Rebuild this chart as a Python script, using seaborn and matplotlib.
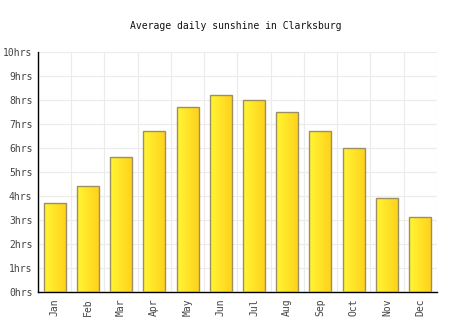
import numpy as np
import pandas as pd
import matplotlib
matplotlib.use("Agg")
import matplotlib.pyplot as plt
import seaborn as sns
from matplotlib.colors import LinearSegmentedColormap

months = ["Jan", "Feb", "Mar", "Apr", "May", "Jun",
          "Jul", "Aug", "Sep", "Oct", "Nov", "Dec"]
sunshine_hours = [3.7, 4.4, 5.6, 6.7, 7.7, 8.2, 8.0, 7.5, 6.7, 6.0, 3.9, 3.1]
y_ticks = list(range(0, 11))
y_tick_labels = [f"{v}hrs" for v in y_ticks]
title = "Average daily sunshine in Clarksburg"

df = pd.DataFrame({"month": months, "hours": sunshine_hours})

sns.set_style("white")
plt.rcParams["font.family"] = ["DejaVu Sans Mono"]

fig = plt.figure(figsize=(4.74, 3.31), dpi=100)
ax = fig.add_axes([0.0802, 0.1193, 0.8412, 0.7245])

sns.barplot(data=df, x="month", y="hours", ax=ax, width=0.66,
            color="#FFE62A", edgecolor="#9C8F63", linewidth=1.0,
            zorder=3)

# horizontal yellow gradient inside each bar
grad = LinearSegmentedColormap.from_list("sun", ["#FFF533", "#FFD21C"])
g = np.linspace(0, 1, 64).reshape(1, -1)
for p in ax.patches:
    x0, y0 = p.get_x(), p.get_y()
    w, h = p.get_width(), p.get_height()
    p.set_facecolor("none")
    im = ax.imshow(g, cmap=grad, aspect="auto", extent=[x0, x0 + w, y0, y0 + h],
                   zorder=2.5, interpolation="bilinear")
    im.set_clip_path(p)

ax.set_xlim(-0.5, len(months) - 0.5)
ax.set_ylim(0, 10)
ax.set_yticks(y_ticks)
ax.set_yticklabels(y_tick_labels)
ax.set_xticks(range(len(months)))
ax.set_xticklabels(months, rotation=90)
ax.set_xticks(np.arange(-0.5, len(months), 1.0), minor=True)

ax.grid(True, axis="y", which="major", color="#EBEBEB", linewidth=0.8, zorder=0)
ax.grid(True, axis="x", which="minor", color="#EBEBEB", linewidth=0.8, zorder=0)
ax.set_axisbelow(True)

ax.tick_params(axis="both", which="both", length=0, labelsize=7,
               labelcolor="#444444", pad=4)
ax.tick_params(axis="x", pad=5)
ax.set_xlabel("")
ax.set_ylabel("")

for side in ["top", "right"]:
    ax.spines[side].set_visible(False)
for side in ["left", "bottom"]:
    ax.spines[side].set_color("#000000")
    ax.spines[side].set_linewidth(1.0)

fig.text(0.498, 0.921, title, ha="center", va="center", fontsize=7, color="#111111")

fig.savefig("out.png", dpi=100)
